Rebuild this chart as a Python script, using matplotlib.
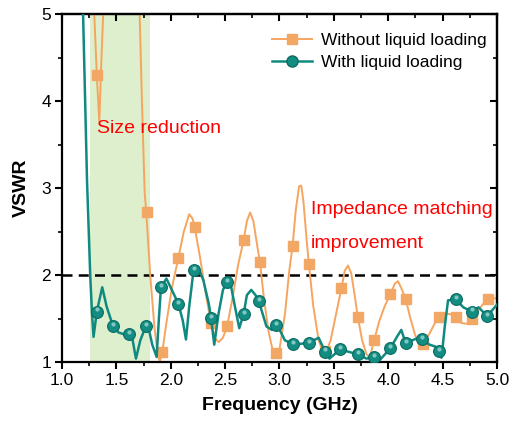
import matplotlib
matplotlib.use("Agg")
import matplotlib.pyplot as plt
from matplotlib.ticker import MultipleLocator

plt.rcParams['font.family'] = ['Liberation Sans', 'DejaVu Sans']

# ---- data ----
# "Without liquid loading" curve
wo_x = [1.29, 1.32, 1.343, 1.36, 1.385,
        1.71, 1.735, 1.76, 1.775, 1.81, 1.85, 1.88, 1.90, 1.92, 1.96, 2.01, 2.07, 2.12, 2.17,
        2.20, 2.22, 2.27, 2.32, 2.37, 2.41, 2.44, 2.48, 2.52, 2.57, 2.62, 2.67, 2.70, 2.73,
        2.76, 2.80, 2.82, 2.86, 2.90, 2.94, 2.97, 3.00, 3.05, 3.09, 3.12, 3.15, 3.18, 3.20,
        3.22, 3.25, 3.27, 3.31, 3.36, 3.40, 3.43, 3.47, 3.52, 3.57, 3.60, 3.63, 3.66, 3.69,
        3.72, 3.76, 3.80, 3.83, 3.87, 3.92, 3.97, 4.02, 4.06, 4.09, 4.12, 4.16, 4.20, 4.25,
        4.29, 4.32, 4.38, 4.43, 4.47, 4.52, 4.57, 4.62, 4.67, 4.72, 4.77, 4.83, 4.88, 4.92,
        4.97, 5.0]
wo_y = [5.2, 4.30, 3.76, 4.4, 5.2,
        5.2, 4.0, 2.95, 2.72, 2.02, 1.40, 1.08, 1.01, 1.10, 1.45, 1.85, 2.20, 2.50, 2.70,
        2.65, 2.55, 2.20, 1.80, 1.45, 1.27, 1.23, 1.28, 1.42, 1.75, 2.12, 2.40, 2.62, 2.72,
        2.62, 2.30, 2.15, 1.70, 1.35, 1.12, 1.08, 1.15, 1.55, 2.05, 2.33, 2.75, 3.02, 3.03,
        2.85, 2.40, 2.13, 1.65, 1.25, 1.12, 1.12, 1.25, 1.55, 1.85, 2.05, 2.11, 2.02, 1.78,
        1.52, 1.25, 1.09, 1.05, 1.25, 1.48, 1.65, 1.78, 1.90, 1.93, 1.85, 1.73, 1.52, 1.30,
        1.20, 1.21, 1.33, 1.45, 1.53, 1.56, 1.55, 1.52, 1.45, 1.44, 1.49, 1.60, 1.68, 1.72,
        1.73, 1.74]
wo_mx = [1.32, 1.78, 1.92, 2.07, 2.22, 2.37, 2.52, 2.67, 2.82, 2.97, 3.12, 3.27, 3.42,
         3.57, 3.72, 3.87, 4.02, 4.16, 4.32, 4.47, 4.62, 4.77, 4.92]
wo_my = [4.30, 2.72, 1.12, 2.20, 2.55, 1.45, 1.42, 2.40, 2.15, 1.11, 2.33, 2.13, 1.13,
         1.85, 1.52, 1.25, 1.78, 1.73, 1.21, 1.52, 1.52, 1.49, 1.72]

# "With liquid loading" curve
w_x = [1.19, 1.23, 1.26, 1.276, 1.29, 1.32, 1.37, 1.41, 1.47, 1.52, 1.57, 1.62, 1.65,
       1.68, 1.72, 1.77, 1.80, 1.83, 1.87, 1.89, 1.91, 1.96, 2.01, 2.07, 2.11, 2.14, 2.17,
       2.21, 2.25, 2.30, 2.35, 2.37, 2.40, 2.44, 2.48, 2.52, 2.55, 2.59, 2.63, 2.67, 2.70,
       2.74, 2.78, 2.81, 2.88, 2.93, 2.97, 3.01, 3.05, 3.12, 3.19, 3.27, 3.36, 3.42, 3.46,
       3.56, 3.63, 3.72, 3.80, 3.87, 3.92, 4.02, 4.08, 4.12, 4.16, 4.22, 4.26, 4.31, 4.38,
       4.43, 4.47, 4.49, 4.52, 4.55, 4.62, 4.69, 4.77, 4.83, 4.91, 5.0]
w_y = [5.2, 3.09, 1.98, 1.56, 1.29, 1.58, 1.86, 1.64, 1.41, 1.34, 1.32, 1.32, 1.25,
       1.04, 1.25, 1.41, 1.37, 1.20, 1.06, 1.48, 1.86, 1.96, 1.83, 1.67, 1.48, 1.26, 1.64,
       2.06, 2.10, 1.94, 1.67, 1.51, 1.20, 1.56, 1.83, 1.92, 1.90, 1.64, 1.39, 1.55, 1.77,
       1.83, 1.77, 1.70, 1.41, 1.37, 1.43, 1.35, 1.25, 1.21, 1.21, 1.22, 1.28, 1.12, 1.04,
       1.15, 1.12, 1.09, 1.04, 1.06, 1.02, 1.16, 1.29, 1.37, 1.22, 1.25, 1.27, 1.26, 1.20,
       1.18, 1.13, 1.05, 1.41, 1.71, 1.72, 1.63, 1.58, 1.63, 1.53, 1.66]
w_mx = [1.32, 1.47, 1.62, 1.77, 1.91, 2.07, 2.21, 2.37, 2.52, 2.67, 2.81, 2.97, 3.12,
        3.27, 3.42, 3.56, 3.72, 3.87, 4.02, 4.16, 4.31, 4.47, 4.62, 4.77, 4.91]
w_my = [1.58, 1.41, 1.32, 1.41, 1.86, 1.67, 2.06, 1.51, 1.92, 1.55, 1.70, 1.43, 1.21,
        1.22, 1.12, 1.15, 1.09, 1.06, 1.16, 1.22, 1.26, 1.13, 1.72, 1.58, 1.53]

band = (1.26, 1.81)
threshold = 2.0
x_ticks = [1.0, 1.5, 2.0, 2.5, 3.0, 3.5, 4.0, 4.5, 5.0]
y_ticks = [1, 2, 3, 4, 5]

ORANGE = '#f6a55f'
ORANGE_M = '#f3a764'
TEAL = '#108a80'

fig = plt.figure(figsize=(5.15, 4.28), dpi=100)
ax = fig.add_axes([0.1204, 0.154, 0.8446, 0.813])

ax.axvspan(band[0], band[1], color='#ddefcc', lw=0, zorder=0)
ax.axhline(threshold, color='black', lw=1.8, ls=(0, (4, 2.5)), zorder=1)

ax.plot(wo_x, wo_y, color=ORANGE, lw=1.4, zorder=2)
ax.plot(wo_mx, wo_my, ls='none', marker='s', ms=7, mfc=ORANGE_M, mec=ORANGE_M, zorder=3)
ax.plot(w_x, w_y, color=TEAL, lw=1.8, zorder=4)
ax.plot(w_mx, w_my, ls='none', marker='o', ms=8.5, mfc='#138c82', mec='#0b6c64', mew=0.8, zorder=5)
ax.plot(w_mx, [v + 0.025 for v in w_my], ls='none', marker='o', ms=3, mfc='#9fd8d0',
        mec='none', alpha=0.8, zorder=6)

# legend handles
ax.plot([], [], color=ORANGE, lw=1.4, marker='s', ms=7, mfc=ORANGE_M, mec=ORANGE_M,
        label='Without liquid loading')
ax.plot([], [], color=TEAL, lw=1.8, marker='o', ms=8, mfc='#138c82', mec='#0b6c64',
        label='With liquid loading')
handles, labels = ax.get_legend_handles_labels()
ax.legend(handles, labels, loc='upper right', bbox_to_anchor=(1.0, 0.975), frameon=False,
          fontsize=12.5, handlelength=2.3, handletextpad=0.5, borderaxespad=0.2,
          labelspacing=0.4)

ax.text(1.32, 3.69, 'Size reduction', color='red', fontsize=14, va='center', ha='left')
ax.text(3.29, 2.75, 'Impedance matching', color='red', fontsize=14, va='center', ha='left')
ax.text(3.29, 2.36, 'improvement', color='red', fontsize=14, va='center', ha='left')

ax.set_xlim(1.0, 5.0)
ax.set_ylim(1.0, 5.0)
ax.set_xticks(x_ticks)
ax.set_xticklabels([f'{v:.1f}' for v in x_ticks])
ax.set_yticks(y_ticks)
ax.set_yticklabels([str(v) for v in y_ticks])
ax.xaxis.set_minor_locator(MultipleLocator(0.25))
ax.yaxis.set_minor_locator(MultipleLocator(0.5))
ax.tick_params(which='major', direction='out', length=5, width=1.5, labelsize=12.5, pad=3)
ax.tick_params(which='minor', direction='out', length=3, width=1.2)

for s in ax.spines.values():
    s.set_linewidth(1.6)

# mirrored inward ticks on top and right
top = ax.secondary_xaxis('top')
top.set_xticks(x_ticks)
top.xaxis.set_minor_locator(MultipleLocator(0.25))
top.tick_params(which='major', direction='in', length=5, width=1.5, labeltop=False)
top.tick_params(which='minor', direction='in', length=3, width=1.2)
top.spines['top'].set_linewidth(1.6)
right = ax.secondary_yaxis('right')
right.set_yticks(y_ticks)
right.yaxis.set_minor_locator(MultipleLocator(0.5))
right.tick_params(which='major', direction='in', length=5, width=1.5, labelright=False)
right.tick_params(which='minor', direction='in', length=3, width=1.2)
right.spines['right'].set_linewidth(1.6)

ax.set_xlabel('Frequency (GHz)', fontsize=14, fontweight='bold', labelpad=6)
ax.set_ylabel('VSWR', fontsize=14, fontweight='bold', labelpad=8)

fig.savefig('out.png', dpi=100)
